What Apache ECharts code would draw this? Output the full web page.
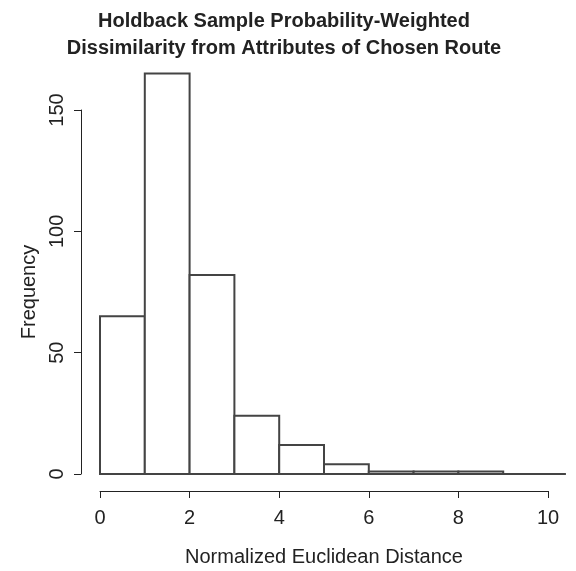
<!DOCTYPE html>
<html>
<head>
<meta charset="utf-8">
<script src="https://cdn.jsdelivr.net/npm/echarts@6/dist/echarts.min.js"></script>
<style>
  html, body { margin: 0; padding: 0; background: #fff; }
  #chart { width: 576px; height: 571px; }
</style>
</head>
<body>
<div id="chart"></div>
<script>
// histogram bin edges and counts
const breaks = [0, 1, 2, 3, 4, 5, 6, 7, 8, 9, 10, 10.4]
const counts = [65, 165, 82, 24, 12, 4, 1, 1, 1, 0, 0]
const xTicks = [0, 2, 4, 6, 8, 10]
const yTicks = [0, 50, 100, 150]

const FONT = "'Liberation Sans', Arial, sans-serif"
const bins = counts.map((c, i) => [breaks[i], breaks[i + 1], c])

const chart = echarts.init(document.getElementById('chart'))
chart.setOption({
    animation: false,
    textStyle: { fontFamily: FONT },
    title: {
        text: 'Holdback Sample Probability-Weighted\nDissimilarity from Attributes of Chosen Route',
        left: 279,
        textAlign: 'center',
        top: 3,
        textStyle: { fontSize: 20, fontWeight: 'bold', color: '#222', lineHeight: 27, fontFamily: FONT }
    },
    grid: { left: 100, right: 28, top: 110, bottom: 97, containLabel: false, outerBoundsMode: 'none' },
    xAxis: {
        type: 'value',
        min: 0, max: 10, interval: 2,
        offset: 17,
        name: 'Normalized Euclidean Distance',
        nameLocation: 'middle',
        nameGap: 56,
        nameTextStyle: { fontSize: 20, color: '#222', fontFamily: FONT },
        axisLine: { show: true, onZero: false, lineStyle: { color: '#222', width: 1 } },
        axisTick: { show: true, length: 7, lineStyle: { color: '#222' } },
        axisLabel: { fontSize: 20, color: '#222', margin: 17, fontFamily: FONT,
            customValues: xTicks },
        splitLine: { show: false }
    },
    yAxis: {
        type: 'value',
        min: 0, max: 150, interval: 50,
        offset: 19,
        name: 'Frequency',
        nameLocation: 'middle',
        nameGap: 35,
        nameRotate: 90,
        nameTextStyle: { fontSize: 20, color: '#222', fontFamily: FONT },
        axisLine: { show: true, onZero: false, lineStyle: { color: '#222', width: 1 } },
        axisTick: { show: true, length: 7, lineStyle: { color: '#222' } },
        axisLabel: { fontSize: 20, color: '#222', rotate: 90, margin: 14, fontFamily: FONT,
            customValues: yTicks },
        splitLine: { show: false }
    },
    series: [{
        type: 'custom',
        clip: false,
        data: bins,
        renderItem: (params, api) => {
            const p0 = api.coord([api.value(0), 0])
            const p1 = api.coord([api.value(1), api.value(2)])
            return {
                type: 'rect',
                shape: { x: p0[0], y: p1[1], width: p1[0] - p0[0], height: p0[1] - p1[1] },
                style: { fill: '#fff', stroke: '#444', lineWidth: 2 }
            }
        }
    }]
})
</script>
</body>
</html>
